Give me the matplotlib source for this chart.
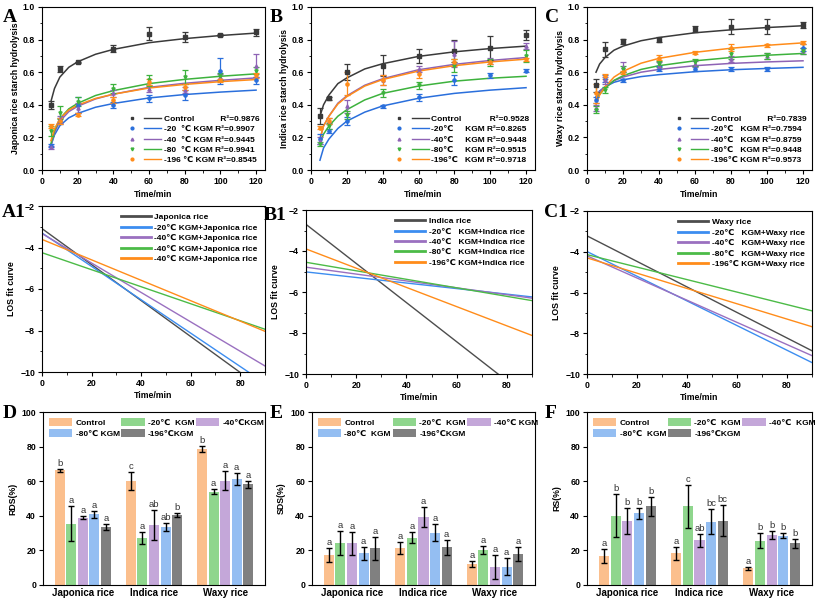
import matplotlib
matplotlib.use("Agg")
import matplotlib.pyplot as plt
from matplotlib.lines import Line2D
from matplotlib.legend_handler import HandlerTuple
from matplotlib.ticker import AutoMinorLocator, MultipleLocator

plt.rcParams.update({
    "font.family": ["Liberation Sans", "DejaVu Sans"],
    "font.weight": "bold",
    "axes.labelweight": "bold",
    "font.size": 6.5,
    "axes.linewidth": 0.8,
    "xtick.direction": "out",
    "ytick.direction": "out",
    "xtick.major.size": 3,
    "ytick.major.size": 3,
    "xtick.minor.size": 1.8,
    "ytick.minor.size": 1.8,
})

W, H = 817, 602
TICK_FS = 6.3
LAB_FS = 6.3
LEG_FS = 6.0

# ---------------- hydrolysis kinetics (A, B, C) ----------------
T_PTS = [5, 10, 20, 40, 60, 80, 100, 120]
T_FIT = [5, 7, 10, 15, 20, 30, 40, 60, 80, 100, 120]
SERIES = ["Control", "-20", "-40", "-80", "-196"]
LINE_COLORS = ["#3a3a3a", "#2a6fdc", "#8e63b5", "#3db23d", "#ff8c1a"]
MARKERS = ["s", "o", "^", "v", "o"]

A_PTS = [
    [0.40, 0.62, 0.66, 0.745, 0.835, 0.815, 0.83, 0.845],
    [0.15, 0.30, 0.40, 0.40, 0.44, 0.46, 0.61, 0.55],
    [0.14, 0.31, 0.38, 0.47, 0.50, 0.49, 0.57, 0.64],
    [0.24, 0.35, 0.42, 0.50, 0.55, 0.57, 0.575, 0.61],
    [0.27, 0.30, 0.34, 0.43, 0.54, 0.51, 0.55, 0.58],
]
A_ERR = [
    [0.025, 0.02, 0.005, 0.02, 0.04, 0.03, 0.005, 0.02],
    [0.01, 0.02, 0.05, 0.02, 0.02, 0.03, 0.08, 0.02],
    [0.01, 0.02, 0.03, 0.02, 0.02, 0.02, 0.02, 0.07],
    [0.03, 0.04, 0.03, 0.025, 0.035, 0.045, 0.02, 0.02],
    [0.01, 0.02, 0.01, 0.02, 0.02, 0.02, 0.01, 0.015],
]
A_FIT = [
    [0.42, 0.50, 0.57, 0.63, 0.664, 0.71, 0.74, 0.781, 0.806, 0.825, 0.84],
    [0.15, 0.215, 0.272, 0.32, 0.347, 0.385, 0.408, 0.442, 0.463, 0.478, 0.49],
    [0.15, 0.229, 0.299, 0.358, 0.391, 0.436, 0.465, 0.507, 0.532, 0.55, 0.565],
    [0.16, 0.242, 0.315, 0.375, 0.409, 0.457, 0.487, 0.53, 0.556, 0.575, 0.59],
    [0.18, 0.251, 0.315, 0.368, 0.398, 0.439, 0.465, 0.503, 0.525, 0.542, 0.555],
]
A_LABELS = ["Control           R²=0.9876", "-20  ℃ KGM R²=0.9907",
            "-40  ℃ KGM R²=0.9445", "-80  ℃ KGM R²=0.9941",
            "-196 ℃ KGM R²=0.8545"]

B_PTS = [
    [0.33, 0.44, 0.60, 0.64, 0.70, 0.73, 0.75, 0.83],
    [0.19, 0.24, 0.30, 0.39, 0.445, 0.55, 0.58, 0.61],
    [0.18, 0.30, 0.39, 0.55, 0.62, 0.71, 0.67, 0.76],
    [0.16, 0.27, 0.34, 0.47, 0.52, 0.64, 0.66, 0.70],
    [0.26, 0.30, 0.53, 0.55, 0.59, 0.66, 0.66, 0.68],
]
B_ERR = [
    [0.05, 0.01, 0.05, 0.065, 0.045, 0.065, 0.075, 0.03],
    [0.03, 0.01, 0.025, 0.01, 0.02, 0.03, 0.015, 0.01],
    [0.02, 0.02, 0.04, 0.03, 0.02, 0.08, 0.02, 0.02],
    [0.01, 0.02, 0.025, 0.025, 0.02, 0.04, 0.02, 0.035],
    [0.01, 0.02, 0.07, 0.03, 0.025, 0.02, 0.01, 0.01],
]
B_FIT = [
    [0.33, 0.40, 0.46, 0.53, 0.565, 0.62, 0.652, 0.697, 0.725, 0.745, 0.76],
    [0.06, 0.135, 0.19, 0.255, 0.30, 0.355, 0.393, 0.44, 0.47, 0.49, 0.505],
    [0.19, 0.27, 0.33, 0.41, 0.455, 0.52, 0.56, 0.615, 0.648, 0.672, 0.69],
    [0.16, 0.22, 0.27, 0.33, 0.37, 0.43, 0.47, 0.515, 0.545, 0.563, 0.575],
    [0.19, 0.27, 0.33, 0.405, 0.45, 0.515, 0.555, 0.607, 0.64, 0.663, 0.68],
]
B_LABELS = ["Control            R²=0.9528", "-20℃     KGM R²=0.8265",
            "-40℃     KGM R²=0.9448", "-80℃     KGM R²=0.9515",
            "-196℃   KGM R²=0.9718"]

C_PTS = [
    [0.52, 0.74, 0.79, 0.80, 0.865, 0.88, 0.88, 0.89],
    [0.43, 0.56, 0.55, 0.62, 0.62, 0.62, 0.62, 0.75],
    [0.38, 0.55, 0.63, 0.64, 0.65, 0.68, 0.70, 0.73],
    [0.37, 0.49, 0.62, 0.65, 0.66, 0.71, 0.70, 0.73],
    [0.47, 0.575, 0.60, 0.69, 0.72, 0.75, 0.765, 0.78],
]
C_ERR = [
    [0.04, 0.045, 0.015, 0.015, 0.02, 0.045, 0.045, 0.02],
    [0.02, 0.02, 0.01, 0.015, 0.015, 0.01, 0.01, 0.02],
    [0.02, 0.02, 0.03, 0.02, 0.02, 0.02, 0.02, 0.02],
    [0.02, 0.02, 0.02, 0.02, 0.02, 0.03, 0.02, 0.02],
    [0.06, 0.015, 0.01, 0.015, 0.01, 0.02, 0.01, 0.01],
]
C_FIT = [
    [0.60, 0.65, 0.69, 0.735, 0.76, 0.793, 0.813, 0.842, 0.86, 0.874, 0.885],
    [0.45, 0.485, 0.51, 0.538, 0.553, 0.573, 0.585, 0.603, 0.615, 0.623, 0.63],
    [0.44, 0.48, 0.51, 0.548, 0.57, 0.60, 0.617, 0.64, 0.654, 0.663, 0.67],
    [0.42, 0.465, 0.50, 0.55, 0.578, 0.617, 0.64, 0.67, 0.69, 0.704, 0.715],
    [0.40, 0.46, 0.51, 0.57, 0.605, 0.655, 0.685, 0.722, 0.747, 0.765, 0.78],
]
C_LABELS = ["Control           R²=0.7839", "-20℃   KGM R²=0.7594",
            "-40℃   KGM R²=0.8759", "-80℃   KGM R²=0.9448",
            "-196℃ KGM R²=0.9573"]

# ---------------- LOS fits (A1, B1, C1): values at t=0 and t=90 ----------------
LOS_T = [0, 90]
LOS_COLORS = ["#4d4d4d", "#3c8df0", "#9a70c0", "#4cbb47", "#ff8c1a"]
A1_LOS = [[-3.09, -10.89], [-3.30, -10.54], [-3.33, -9.71], [-4.25, -7.94], [-3.61, -8.04]]
B1_LOS = [[-2.70, -11.29], [-5.02, -6.24], [-4.79, -6.30], [-4.55, -6.42], [-3.90, -8.12]]
C1_LOS = [[-3.22, -8.86], [-3.99, -9.44], [-4.20, -9.10], [-4.14, -6.90], [-4.30, -7.68]]
A1_LABELS = ["Japonica rice", "-20℃ KGM+Japonica rice", "-40℃ KGM+Japonica rice",
             "-40℃ KGM+Japonica rice", "-40℃ KGM+Japonica rice"]
B1_LABELS = ["Indica rice", "-20℃   KGM+Indica rice", "-40℃   KGM+Indica rice",
             "-80℃   KGM+Indica rice", "-196℃ KGM+Indica rice"]
C1_LABELS = ["Waxy rice", "-20℃   KGM+Waxy rice", "-40℃   KGM+Waxy rice",
             "-80℃   KGM+Waxy rice", "-196℃ KGM+Waxy rice"]

# ---------------- digestibility fractions (D, E, F) ----------------
RICE = ["Japonica rice", "Indica rice", "Waxy rice"]
BAR_COLORS = ["#fbbf8d", "#8fd68d", "#c4a7d9", "#94bef2", "#808080"]

RDS = [[66.2, 60.3, 78.6], [35.5, 27.3, 54.0], [39.0, 34.7, 60.4],
       [40.8, 33.5, 61.2], [33.6, 40.6, 58.3]]
RDS_ERR = [[0.7, 5.2, 2.0], [10.0, 3.6, 1.6], [1.0, 8.5, 5.6],
           [2.0, 2.5, 3.5], [1.7, 1.2, 2.0]]
RDS_SIG = [["b", "c", "b"], ["a", "a", "a"], ["a", "ab", "a"],
           ["a", "ab", "a"], ["a", "b", "a"]]

SDS = [[17.3, 21.6, 12.1], [24.2, 27.4, 20.2], [24.0, 39.5, 10.2],
       [18.3, 30.2, 10.6], [21.2, 21.8, 17.9]]
SDS_ERR = [[4.0, 3.5, 1.5], [6.8, 3.3, 2.5], [6.8, 5.8, 7.0],
           [3.8, 5.0, 4.8], [6.8, 4.3, 4.3]]
SDS_SIG = [["a", "a", "a"]] * 5

RS = [[16.8, 18.4, 9.6], [40.0, 45.5, 25.5], [36.8, 25.9, 29.0],
      [41.4, 36.5, 28.6], [45.4, 37.2, 24.0]]
RS_ERR = [[3.8, 3.8, 1.0], [12.5, 12.3, 4.3], [7.5, 3.7, 2.3],
          [3.3, 7.3, 1.3], [5.5, 8.8, 2.7]]
RS_SIG = [["a", "a", "a"], ["b", "c", "b"], ["b", "ab", "b"],
          ["b", "bc", "b"], ["b", "bc", "b"]]

D_LABELS = ["Control", "-20℃  KGM", "-40℃KGM", "-80℃ KGM", "-196℃KGM"]
E_LABELS = ["Control", "-20℃  KGM", "-40℃ KGM", "-80℃  KGM", "-196℃KGM"]
F_LABELS = ["Control", "-20℃  KGM", "-40℃  KGM", "-80℃  KGM", "-196℃KGM"]


def rect(left, top, right, bottom):
    return [left / W, 1 - bottom / H, (right - left) / W, (bottom - top) / H]


def style(ax):
    ax.tick_params(labelsize=TICK_FS, width=0.8, pad=2)
    ax.tick_params(which="minor", width=0.6)
    for lab in ax.get_xticklabels() + ax.get_yticklabels():
        lab.set_fontweight("bold")


def kinetics(ax, pts, err, fit, labels, ylabel):
    handles = []
    for i in range(len(SERIES)):
        c = LINE_COLORS[i]
        ax.errorbar(T_PTS, pts[i], yerr=err[i], fmt=MARKERS[i], ms=2.3, color=c,
                    ecolor=c, elinewidth=0.9, capsize=2, capthick=0.9, zorder=3)
        ax.plot(T_FIT, fit[i], color=c, lw=1.1, zorder=2)
        m = Line2D([], [], ls="none", marker=MARKERS[i], ms=2.0, color=c)
        ln = Line2D([], [], color=c, lw=1.0)
        handles.append((m, ln))
    ax.set_xlim(0, 125)
    ax.set_ylim(0, 1.0)
    ax.xaxis.set_major_locator(MultipleLocator(20))
    ax.yaxis.set_major_locator(MultipleLocator(0.2))
    ax.xaxis.set_minor_locator(AutoMinorLocator(2))
    ax.yaxis.set_minor_locator(AutoMinorLocator(2))
    ax.set_xlabel("Time/min", fontsize=LAB_FS, labelpad=3)
    ax.set_ylabel(ylabel, fontsize=LAB_FS, labelpad=2)
    ax.legend(handles, labels, loc="lower right", frameon=False,
              handler_map={tuple: HandlerTuple(ndivide=None, pad=0.5)},
              handlelength=4.5, handletextpad=0.3, labelspacing=0.3,
              borderaxespad=0.3, prop={"weight": "bold", "size": LEG_FS})
    style(ax)


def los(ax, vals, labels):
    for i in range(len(vals)):
        ax.plot(LOS_T, vals[i], color=LOS_COLORS[i], lw=1.0, label=labels[i])
    ax.set_xlim(0, 90)
    ax.set_ylim(-10, -2)
    ax.xaxis.set_major_locator(MultipleLocator(20))
    ax.yaxis.set_major_locator(MultipleLocator(2))
    ax.xaxis.set_minor_locator(AutoMinorLocator(2))
    ax.yaxis.set_minor_locator(AutoMinorLocator(2))
    ax.set_xlabel("Time/min", fontsize=LAB_FS, labelpad=2)
    ax.set_ylabel("LOS fit curve", fontsize=LAB_FS, labelpad=3)
    leg = ax.legend(loc="upper right", frameon=False, handlelength=3.6,
                    handletextpad=0.4, labelspacing=0.3, borderaxespad=0.5,
                    prop={"weight": "bold", "size": LEG_FS})
    for ln in leg.get_lines():
        ln.set_linewidth(2.0)
    style(ax)


def bars(ax, vals, errs, sigs, labels, ylabel):
    pitch, width = 0.162, 0.14
    groups = [1, 2, 3]
    patches = []
    for i in range(len(vals)):
        xs = [g + (i - 2) * pitch for g in groups]
        b = ax.bar(xs, vals[i], width, color=BAR_COLORS[i], label=labels[i])
        ax.errorbar(xs, vals[i], yerr=errs[i], fmt="none", ecolor="black",
                    elinewidth=1.0, capsize=2, capthick=1.0)
        for x, v, e, s in zip(xs, vals[i], errs[i], sigs[i]):
            ax.text(x, v + e + 0.6, s, ha="center", va="bottom", fontsize=6.8,
                    fontweight="normal", color="#333333")
        patches.append(b)
    ax.set_xlim(0.44, 3.56)
    ax.set_ylim(0, 100)
    ax.yaxis.set_major_locator(MultipleLocator(20))
    ax.set_xticks(groups)
    ax.set_xticklabels(RICE)
    ax.tick_params(axis="x", length=0)
    ax.set_ylabel(ylabel, fontsize=LAB_FS, labelpad=3)
    order = [0, 3, 1, 4, 2]
    ax.legend([patches[k] for k in order], [labels[k] for k in order],
              loc="upper left", ncol=3, frameon=False, handlelength=2.8,
              handleheight=1.1, handletextpad=0.4, columnspacing=0.2,
              labelspacing=0.25, borderaxespad=0.3,
              prop={"weight": "bold", "size": LEG_FS})
    style(ax)
    for lab in ax.get_xticklabels():
        lab.set_fontsize(7)


fig = plt.figure(figsize=(W / 100, H / 100), dpi=100)

axA = fig.add_axes(rect(42, 7, 265, 170))
axB = fig.add_axes(rect(311, 7, 535, 170))
axC = fig.add_axes(rect(587, 7, 812, 170))
kinetics(axA, A_PTS, A_ERR, A_FIT, A_LABELS, "Japonica rice starch hydrolysis")
kinetics(axB, B_PTS, B_ERR, B_FIT, B_LABELS, "Indica rice starch hydrolysis")
kinetics(axC, C_PTS, C_ERR, C_FIT, C_LABELS, "Waxy rice starch hydrolysis")

axA1 = fig.add_axes(rect(42, 206, 265, 372))
axB1 = fig.add_axes(rect(306, 210, 532, 374))
axC1 = fig.add_axes(rect(587, 211, 812, 374))
los(axA1, A1_LOS, A1_LABELS)
los(axB1, B1_LOS, B1_LABELS)
los(axC1, C1_LOS, C1_LABELS)

axD = fig.add_axes(rect(43, 412, 265, 585))
axE = fig.add_axes(rect(312, 412, 535, 585))
axF = fig.add_axes(rect(587, 412, 812, 585))
bars(axD, RDS, RDS_ERR, RDS_SIG, D_LABELS, "RDS(%)")
bars(axE, SDS, SDS_ERR, SDS_SIG, E_LABELS, "SDS(%)")
bars(axF, RS, RS_ERR, RS_SIG, F_LABELS, "RS(%)")

letters = [("A", 3, 17), ("B", 270, 17), ("C", 545, 17),
           ("A1", 2, 213), ("B1", 264, 215), ("C1", 544, 213),
           ("D", 3, 414), ("E", 270, 414), ("F", 545, 414)]
for txt, x, y in letters:
    fig.text(x / W, 1 - y / H, txt, fontsize=14, fontweight="bold",
             family="Liberation Serif", ha="left", va="center")

fig.savefig("out.png", dpi=100)
